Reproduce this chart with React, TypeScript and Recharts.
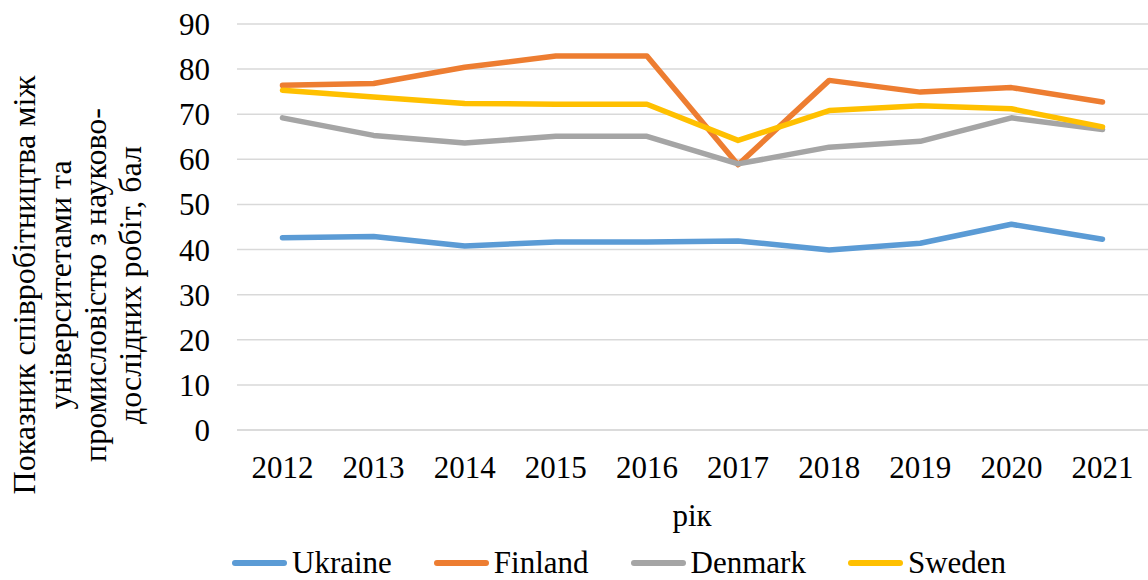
import React from 'react';
import { LineChart, Line, XAxis, YAxis, CartesianGrid } from 'recharts';

const years = ['2012', '2013', '2014', '2015', '2016', '2017', '2018', '2019', '2020', '2021'];
const ukraine = [42.6, 42.9, 40.8, 41.7, 41.7, 41.9, 39.9, 41.4, 45.6, 42.3];
const finland = [76.4, 76.8, 80.4, 82.9, 82.9, 58.8, 77.5, 74.9, 75.9, 72.7];
const denmark = [69.2, 65.3, 63.6, 65.1, 65.1, 59.0, 62.7, 64.0, 69.2, 66.6];
const sweden = [75.3, 73.8, 72.4, 72.2, 72.2, 64.2, 70.8, 71.9, 71.2, 67.2];
const yTicks = [0, 10, 20, 30, 40, 50, 60, 70, 80, 90];
const yTitleLines = [
  'Показник співробітництва між',
  'університетами та',
  'промисловістю з науково-',
  'дослідних робіт, бал',
];
const xTitle = 'рік';

const seriesDefs = [
  { key: 'Ukraine', color: '#5B9BD5', values: ukraine },
  { key: 'Finland', color: '#ED7D31', values: finland },
  { key: 'Denmark', color: '#A5A5A5', values: denmark },
  { key: 'Sweden', color: '#FFC000', values: sweden },
];

const data = years.map((y, i) => {
  const row: Record<string, string | number> = { year: y };
  seriesDefs.forEach((s) => {
    row[s.key] = s.values[i];
  });
  return row;
});

const FONT = 'Liberation Serif';
const titleBaselineX = [35, 70.5, 106, 141];
const titleCenterY = 285;

const YTitle = () => (
  <g>
    {yTitleLines.map((line, i) => (
      <text
        key={i}
        x={titleBaselineX[i]}
        y={titleCenterY}
        transform={`rotate(-90, ${titleBaselineX[i]}, ${titleCenterY})`}
        textAnchor="middle"
        style={{ fontFamily: FONT, fontSize: 32 }}
        fill="#000"
      >
        {line}
      </text>
    ))}
  </g>
);

const XTitle = () => (
  <text x={692} y={515} textAnchor="middle" dominantBaseline="central" style={{ fontFamily: FONT, fontSize: 31 }} fill="#000">
    {xTitle}
  </text>
);

export default function App() {
  return (
    <div style={{ position: 'absolute', left: 0, top: 0, width: 1148, height: 580, background: '#fff', fontFamily: FONT }}>
      <LineChart
        width={1148}
        height={580}
        data={data}
        margin={{ top: 24, right: 0, bottom: 120, left: 0 }}
        style={{ fontFamily: FONT }}
      >
        <CartesianGrid vertical={false} stroke="#D9D9D9" strokeWidth={1.5} />
        <XAxis
          dataKey="year"
          height={30}
          padding={{ left: 45.5, right: 45.5 }}
          axisLine={{ stroke: '#D9D9D9', strokeWidth: 1.5 }}
          tickLine={false}
          tickSize={0}
          tickMargin={26}
          interval={0}
          tick={{ fontFamily: FONT, fontSize: 31, fill: '#000' }}
          label={{ content: () => <XTitle /> }}
        />
        <YAxis
          width={237}
          domain={[0, 90]}
          ticks={yTicks}
          interval={0}
          axisLine={false}
          tickLine={false}
          tickSize={0}
          tickMargin={27}
          tick={{ fontFamily: FONT, fontSize: 31, fill: '#000' }}
          label={{ content: () => <YTitle /> }}
        />
        {seriesDefs.map((s) => (
          <Line
            key={s.key}
            type="linear"
            dataKey={s.key}
            stroke={s.color}
            strokeWidth={5.5}
            strokeLinecap="round"
            strokeLinejoin="round"
            dot={false}
            activeDot={false}
            isAnimationActive={false}
          />
        ))}
      </LineChart>
      <div
        style={{
          position: 'absolute',
          top: 546,
          left: 232,
          height: 34,
          display: 'flex',
          alignItems: 'center',
          fontFamily: FONT,
          fontSize: 31,
          lineHeight: '34px',
          color: '#000',
          whiteSpace: 'nowrap',
        }}
      >
        {seriesDefs.map((s, i) => (
          <div key={s.key} style={{ display: 'flex', alignItems: 'center', marginLeft: i === 0 ? 0 : 42 }}>
            <div style={{ width: 55, height: 6, borderRadius: 3, background: s.color, marginRight: 5 }} />
            <span>{s.key}</span>
          </div>
        ))}
      </div>
    </div>
  );
}
